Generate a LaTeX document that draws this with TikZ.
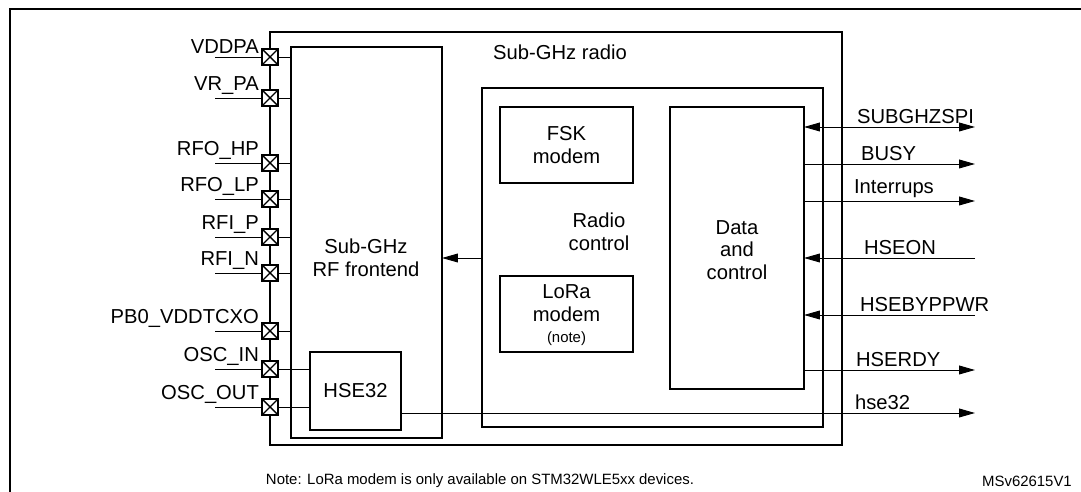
\documentclass[tikz,border=0pt]{standalone}
\usepackage{fontspec}
\setmainfont{Liberation Sans}
\usetikzlibrary{arrows.meta}
\begin{document}
\begin{tikzpicture}[x=0.02cm,y=-0.02cm,
  box/.style={draw,line width=0.6pt},
  pad/.style={draw,line width=0.8pt,minimum size=9pt,inner sep=0pt,path picture={\draw (path picture bounding box.south west)--(path picture bounding box.north east) (path picture bounding box.north west)--(path picture bounding box.south east);}},
  lbl/.style={font=\fontsize{11.5}{13}\selectfont,inner sep=1pt},
  sig/.style={line width=0.5pt},
  arr/.style={sig,-{Triangle[length=9pt,width=5pt]}}]
\useasboundingbox (0,0) rectangle (1081,492);
\draw[line width=0.8pt] (10,9) rectangle (1090,500);
% main blocks
\draw[line width=1pt] (270,32) rectangle (842,445);
\node[lbl] (rad) at (560,52) {Sub-GHz radio};
\draw[box] (291,47) rectangle (442,438);
\node[lbl,align=center] (rf) at (366,258) {Sub-GHz\\RF frontend};
\draw[box] (482,88) rectangle (823,427);
\node[lbl,align=center] (rc) at (599,232) {Radio\\control};
\node[box,lbl,minimum width=133*0.02cm,minimum height=76*0.02cm,align=center] (fsk) at (566.5,145) {FSK\\modem};
\node[box,minimum width=133*0.02cm,minimum height=76*0.02cm] (lora) at (566.5,314) {};
\node[lbl,align=center] at (566.5,303) {LoRa\\modem};
\node[font=\fontsize{8.5}{9}\selectfont] at (566.5,339) {(note)};
\node[box,minimum width=134*0.02cm,minimum height=282*0.02cm] (dc) at (737,248) {};
\node[lbl,align=center] at (737,250) {Data\\and\\control};
\node[box,lbl,minimum width=91*0.02cm,minimum height=78*0.02cm] (hse) at (355.5,391) {HSE32};
\coordinate (rfR) at (442,258);
\coordinate (rcL) at (482,258);
\draw[arr] (rcL) -- (rfR);
% pads
\foreach \n/\y/\t in {p1/57/VDDPA,p2/98/VR\_PA,p3/163/RFO\_HP,p4/199/RFO\_LP,p5/237/RFI\_P,p6/273/RFI\_N,p7/331/PB0\_VDDTCXO,p8/369/OSC\_IN,p9/407/OSC\_OUT}{
  \node[pad,fill=white] (\n) at (270,\y) {};
  \coordinate (\n L) at (215,\y);
  \draw[sig] (\n L) -- (\n);
  \node[lbl,anchor=south east] at (261,\y-1) {\t};
}
\foreach \n/\y in {p1/57,p2/98,p3/163,p4/199,p5/237,p6/273,p7/331}{
  \coordinate (\n R) at (291,\y);
  \draw[sig] (\n.east) -- (\n R);
}
\draw[sig] (p8.east) -- (hse.west |- p8);
\draw[sig] (p9.east) -- (hse.west |- p9);
% right signals
\foreach \n/\y in {s1/127,s2/164,s3/201,s4/258,s5/315,s6/370}{
  \coordinate (\n) at (975,\y);
  \coordinate (\n D) at (804,\y);
}
\draw[sig,{Triangle[length=9pt,width=5pt]}-{Triangle[length=9pt,width=5pt]}] (s1D) -- (s1);
\draw[arr] (s2D) -- (s2);
\draw[arr] (s3D) -- (s3);
\draw[arr] (s4) -- (s4D);
\draw[arr] (s5) -- (s5D);
\draw[arr] (s6D) -- (s6);
\coordinate (s7) at (975,413);
\draw[arr] (hse.east |- s7) -- (s7);
\foreach \y/\t/\x in {127/SUBGHZSPI/855,164/BUSY/859,201/Interrups/852,258/HSEON/862,315/HSEBYPPWR/858,370/HSERDY/854,413/hse32/853}{
  \node[lbl,anchor=south west] at (\x,\y-1) {\t};
}
\node[font=\fontsize{8.5}{10}\selectfont] at (480,481) {Note: LoRa modem is only available on STM32WLE5xx devices.};
\node[font=\fontsize{8.5}{10}\selectfont,anchor=east] at (1078,481) {MSv62615V1};
\end{tikzpicture}
\end{document}
